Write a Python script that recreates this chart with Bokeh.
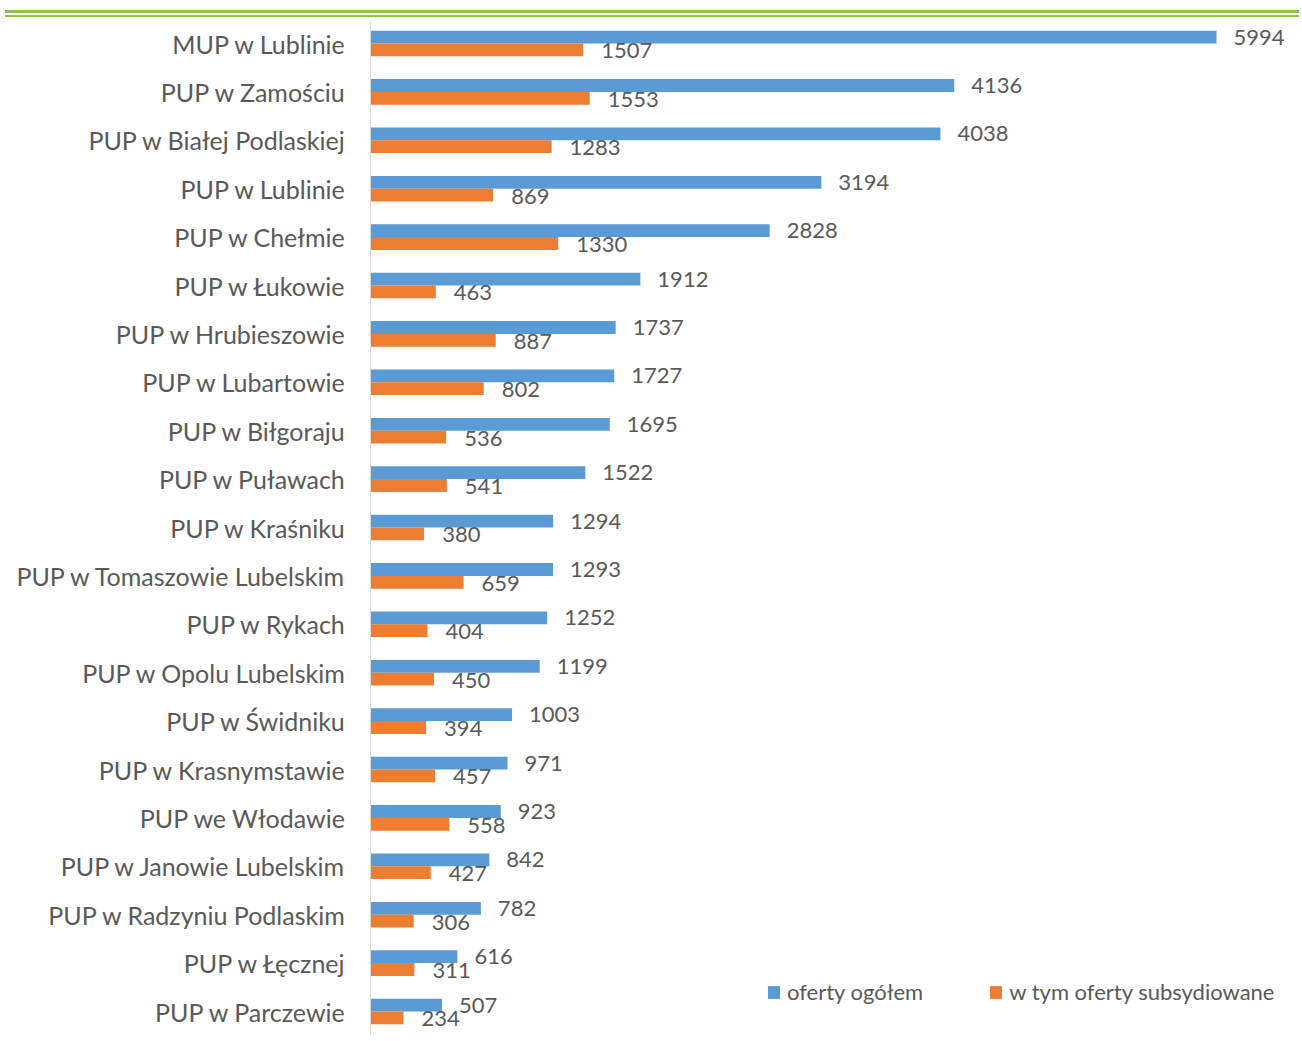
from bokeh.plotting import figure
from bokeh.models import (Range1d, FixedTicker, Legend, LegendItem, ColumnDataSource, Div)
from bokeh.layouts import column
from bokeh.transform import dodge
from bokeh.core.properties import value
from bokeh.embed import file_html
from bokeh.resources import INLINE

categories = [
    "MUP w Lublinie", "PUP w Zamościu", "PUP w Białej Podlaskiej", "PUP w Lublinie",
    "PUP w Chełmie", "PUP w Łukowie", "PUP w Hrubieszowie", "PUP w Lubartowie",
    "PUP w Biłgoraju", "PUP w Puławach", "PUP w Kraśniku", "PUP w Tomaszowie Lubelskim",
    "PUP w Rykach", "PUP w Opolu Lubelskim", "PUP w Świdniku", "PUP w Krasnymstawie",
    "PUP we Włodawie", "PUP w Janowie Lubelskim", "PUP w Radzyniu Podlaskim",
    "PUP w Łęcznej", "PUP w Parczewie",
]
oferty_ogolem = [5994, 4136, 4038, 3194, 2828, 1912, 1737, 1727, 1695, 1522, 1294,
                 1293, 1252, 1199, 1003, 971, 923, 842, 782, 616, 507]
oferty_subsydiowane = [1507, 1553, 1283, 869, 1330, 463, 887, 802, 536, 541, 380,
                       659, 404, 450, 394, 457, 558, 427, 306, 311, 234]
series_names = ["oferty ogółem", "w tym oferty subsydiowane"]

n = len(categories)
pos = [n - 1 - i for i in range(n)]

src = ColumnDataSource(dict(
    pos=pos, cat=categories,
    total=oferty_ogolem, sub=oferty_subsydiowane,
    total_s=[str(v) for v in oferty_ogolem],
    sub_s=[str(v) for v in oferty_subsydiowane],
))

BLUE = "#5b9bd5"
ORANGE = "#ed7d31"
GRAY = "#595959"
FONT = "Lato"

S = 48.4           # px per category
BAR_H = 12.8 / S
OFF = 6.4 / S
W = 1294
H = 1013
LEFT = 370

p = figure(width=W, height=H, output_backend="svg", toolbar_location=None,
           x_axis_location=None,
           x_range=Range1d(0, (W - LEFT) / (846 / 5994)),
           y_range=Range1d(-24 / S, (n - 1) + 21 / S),
           min_border_left=LEFT, min_border_right=0, min_border_top=0, min_border_bottom=0)
p.outline_line_color = None
p.xgrid.visible = False
p.ygrid.visible = False

r_tot = p.hbar(y=dodge("pos", OFF, range=p.y_range), right="total", left=0, height=BAR_H,
               source=src, fill_color=BLUE, line_color=None)
r_sub = p.hbar(y=dodge("pos", -OFF, range=p.y_range), right="sub", left=0, height=BAR_H,
               source=src, fill_color=ORANGE, line_color=None)

p.text(x="total", y=dodge("pos", OFF, range=p.y_range), text="total_s", source=src,
       x_offset=17, y_offset=0, text_baseline="middle", text_align="left",
       text_font=value(FONT), text_font_size="22px", text_color=GRAY)
p.text(x="sub", y=dodge("pos", -OFF, range=p.y_range), text="sub_s", source=src,
       x_offset=18, y_offset=1, text_baseline="middle", text_align="left",
       text_font=value(FONT), text_font_size="22px", text_color=GRAY)

ax = p.yaxis[0]
ax.ticker = FixedTicker(ticks=pos)
ax.major_label_overrides = {pp: c for pp, c in zip(pos, categories)}
ax.axis_line_color = "#d9d9d9"
ax.axis_line_width = 1
ax.major_tick_line_color = None
ax.minor_tick_line_color = None
ax.major_tick_out = 0
ax.major_tick_in = 0
ax.minor_tick_out = 0
ax.major_label_standoff = 24
ax.major_label_text_font = FONT
ax.major_label_text_font_size = "25px"
ax.major_label_text_color = GRAY

legend = Legend(items=[LegendItem(label=series_names[0], renderers=[r_tot]),
                       LegendItem(label=series_names[1], renderers=[r_sub])],
                location=(396, 30), orientation="horizontal",
                glyph_width=15, glyph_height=16, label_standoff=6, spacing=65,
                padding=0, margin=0, border_line_color=None, background_fill_alpha=0,
                label_text_font=FONT, label_text_font_size="22px", label_text_color=GRAY)
p.add_layout(legend)

header = Div(width=W, height=12, text=(
    f'<div style="width:{W}px;height:3px;background:#8cc63e;"></div>'
    f'<div style="width:{W}px;height:2px;background:#8cc63e;margin-top:2px;"></div>'))

layout = column(header, p, spacing=0)
open("out.html", "w").write(file_html(layout, INLINE))
